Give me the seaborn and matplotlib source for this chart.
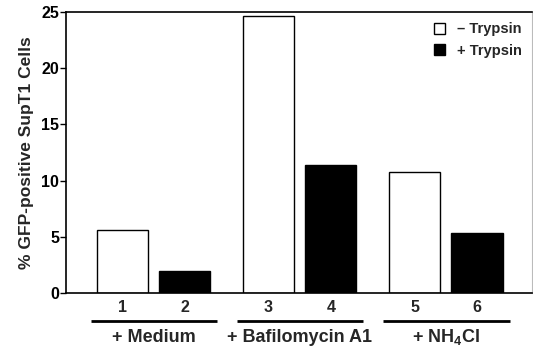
import matplotlib
matplotlib.use("Agg")
import matplotlib.pyplot as plt
import seaborn as sns
import pandas as pd
import numpy as np

# ---- data ----
lanes = ["1", "2", "3", "4", "5", "6"]
groups = ["+ Medium", "+ Bafilomycin A1", "+ NH$_4$Cl"]
trypsin = ["\u2013 Trypsin", "+ Trypsin", "\u2013 Trypsin", "+ Trypsin", "\u2013 Trypsin", "+ Trypsin"]
gfp_percent = [5.6, 2.0, 24.6, 11.4, 10.8, 5.3]
y_ticks = [0, 5, 10, 15, 20, 25]

sns.set_theme(style="white")
plt.rcParams["font.family"] = ["Liberation Sans", "DejaVu Sans"]
plt.rcParams["font.weight"] = "bold"
plt.rcParams["mathtext.fontset"] = "custom"
plt.rcParams["mathtext.rm"] = "Liberation Sans:bold"
plt.rcParams["mathtext.it"] = "Liberation Sans:bold"
plt.rcParams["mathtext.bf"] = "Liberation Sans:bold"
plt.rcParams["mathtext.default"] = "rm"

# x positions: pairs within a group 1 apart, groups offset 2.34
group_gap = 2.34
pos = [(i // 2) * group_gap + (i % 2) for i in range(len(lanes))]

df = pd.DataFrame({"pos": pos, "value": gfp_percent, "trypsin": trypsin, "lane": lanes})

fig = plt.figure(figsize=(5.33, 3.52), dpi=100)
ax = fig.add_axes([66 / 533, (352 - 293) / 352, (532 - 66) / 533, (293 - 12) / 352])

sns.barplot(data=df, x="pos", y="value", hue="trypsin", native_scale=True,
            dodge=False, width=0.82,
            palette={"\u2013 Trypsin": "white", "+ Trypsin": "black"},
            edgecolor="black", linewidth=1.0, ax=ax)

ax.set_xlim(-0.9, pos[-1] + 0.88)
ax.set_ylim(0, 25)
ax.set_yticks(y_ticks)
ax.set_yticklabels([str(t) for t in y_ticks], fontsize=11.5, fontweight="bold")
ax.set_xticks(pos)
ax.set_xticklabels(lanes, fontsize=11.5, fontweight="bold")
ax.tick_params(axis="x", length=0, pad=5)
ax.tick_params(axis="y", length=4, width=1, direction="out", left=True, pad=1, colors="black")
ax.set_xlabel("")
ax.set_ylabel("% GFP-positive SupT1 Cells", fontsize=12.5, fontweight="bold", labelpad=5)

for side in ["left", "top", "bottom"]:
    ax.spines[side].set_color("black")
    ax.spines[side].set_linewidth(1.2)
ax.spines["right"].set_color("#bbbbbb")
ax.spines["right"].set_linewidth(0.8)

# group underlines and labels
trans = ax.get_xaxis_transform()
for g, name in enumerate(groups):
    a = pos[2 * g]
    b = pos[2 * g + 1]
    ax.plot([a - 0.5, b + 0.52], [-0.0996, -0.0996], transform=trans, color="black",
            lw=2.0, clip_on=False, solid_capstyle="butt")
    ax.text((a + b) / 2, -0.158, name, transform=trans, ha="center", va="center",
            fontsize=13, fontweight="bold")

sns.move_legend(ax, "upper right", frameon=False, title=None,
                handlelength=0.8, handleheight=0.8, handletextpad=0.8,
                labelspacing=0.5, borderaxespad=0.3, fontsize=10.5)
for t in ax.get_legend().get_texts():
    t.set_fontweight("bold")

fig.savefig("out.png", dpi=100)
